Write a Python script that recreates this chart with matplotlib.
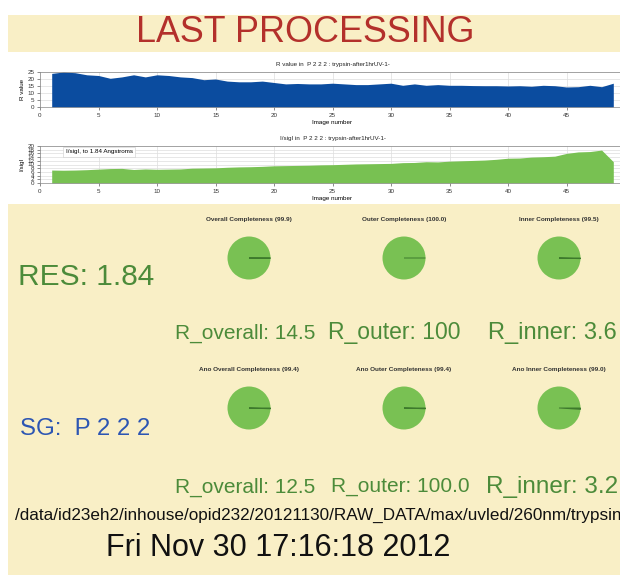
import matplotlib
matplotlib.use("Agg")
import matplotlib.pyplot as plt
from matplotlib.patches import Rectangle

# --- data ---
image_numbers = list(range(1, 50))
r_values = [24.0, 25.0, 24.5, 23.0, 22.5, 20.5, 21.5, 23.0, 21.5, 23.0,
            22.5, 21.5, 21.0, 19.5, 20.0, 18.5, 18.0, 18.0, 18.5, 17.5,
            16.5, 16.8, 16.5, 16.5, 17.0, 16.5, 16.0, 16.0, 16.5, 17.0,
            15.5, 16.5, 15.5, 16.0, 15.5, 15.5, 15.3, 15.2, 15.2, 15.0,
            15.2, 14.8, 15.5, 15.2, 14.3, 14.5, 15.5, 14.5, 17.0]
isigi_values = [7.0, 6.9, 7.0, 7.2, 7.5, 7.8, 7.9, 7.3, 7.6, 7.4,
                7.5, 7.6, 8.0, 8.1, 8.2, 8.5, 8.7, 8.8, 9.0, 9.3,
                9.4, 9.5, 9.6, 9.8, 9.9, 10.1, 10.3, 10.4, 10.5, 10.6,
                11.0, 11.1, 11.5, 11.4, 11.8, 12.0, 12.2, 12.4, 12.8, 13.4,
                13.5, 14.0, 14.2, 14.5, 16.0, 16.8, 17.0, 17.8, 11.5]

space_group = "P 2 2 2"
dataset = "trypsin-after1hrUV-1-"
resolution = "1.84"

completeness_titles = ["Overall Completeness", "Outer Completeness", "Inner Completeness",
                       "Ano Overall Completeness", "Ano Outer Completeness", "Ano Inner Completeness"]
completeness_values = [99.9, 100.0, 99.5, 99.4, 99.4, 99.0]

r_labels_row1 = ["R_overall: 14.5", "R_outer: 100", "R_inner: 3.6"]
r_labels_row2 = ["R_overall: 12.5", "R_outer: 100.0", "R_inner: 3.2"]

data_path = "/data/id23eh2/inhouse/opid232/20121130/RAW_DATA/max/uvled/260nm/trypsin"
timestamp = "Fri Nov 30 17:16:18 2012"

W, H = 620, 575
YELLOW = "#f9efc6"
GREEN_TXT = "#4c8b3a"
BLUE_TXT = "#2d56b3"
PIE_GREEN = "#79c153"
FILL_BLUE = "#0b4c9f"
FILL_GREEN = "#78c152"

plt.rcParams['font.family'] = ['Liberation Sans', 'DejaVu Sans']


def fx(px):
    return px / W


def fy(py):
    return 1 - py / H


fig = plt.figure(figsize=(6.2, 5.75), dpi=100)
fig.patch.set_facecolor("white")

# yellow panels (behind every axes)
fig.patches.append(Rectangle((fx(8), fy(52)), fx(612), 37 / H, transform=fig.transFigure,
                             facecolor=YELLOW, edgecolor="none", zorder=-5))
fig.patches.append(Rectangle((fx(8), 0), fx(612), fy(204), transform=fig.transFigure,
                             facecolor=YELLOW, edgecolor="none", zorder=-5))

fig.text(fx(305), fy(32), "LAST PROCESSING", color="#b3302b", fontsize=25.8,
         ha="center", va="center")


def trend_axes(top, bottom, values, color, title, ylabel, ylim, yticks):
    ax = fig.add_axes([fx(40), fy(bottom), fx(585), (bottom - top) / H])
    ax.fill_between(image_numbers, values, 0, color=color, linewidth=0, zorder=2)
    ax.set_xlim(0, 50)
    ax.set_ylim(*ylim)
    ax.set_xticks([0, 5, 10, 15, 20, 25, 30, 35, 40, 45])
    ax.set_yticks(yticks)
    ax.tick_params(labelsize=4.5, length=2, width=0.4, pad=2, colors="#333333")
    ax.grid(True, color="#dddddd", linewidth=0.5, zorder=0)
    for s in ax.spines.values():
        s.set_linewidth(0.5)
        s.set_color("#888888")
    ax.set_title(title, fontsize=4.5, pad=4, color="#222222")
    ax.set_ylabel(ylabel, fontsize=4.5, labelpad=2)
    ax.set_xlabel("Image number", fontsize=4.5, labelpad=2)
    return ax


trend_axes(72, 107, r_values, FILL_BLUE,
           "R value in  %s : %s" % (space_group, dataset), "R value",
           (0, 25), [0, 5, 10, 15, 20, 25])

ax2 = trend_axes(146, 183, isigi_values, FILL_GREEN,
                 "I/sigI in  %s : %s" % (space_group, dataset), "I/sigI",
                 (0, 20), [0, 2, 4, 6, 8, 10, 12, 14, 16, 18, 20])
ax2.text(2.2, 17.0, "I/sigI, to %s Angstroms" % resolution, fontsize=4.5, va="center",
         bbox=dict(facecolor="white", edgecolor="#cccccc", linewidth=0.4, pad=1.8), zorder=5)

# completeness pies (pie() pads its limits to +-1.25 radius)
pie_cx = [249, 404, 559]
pie_cy = [258, 408]
R = 21.5
half = R * 1.25
for i, (name, val) in enumerate(zip(completeness_titles, completeness_values)):
    cx = pie_cx[i % 3]
    cy = pie_cy[i // 3]
    ax = fig.add_axes([fx(cx - half), fy(cy + half), 2 * half / W, 2 * half / H])
    wedges, _ = ax.pie([val, 100 - val], colors=[PIE_GREEN, "#3d7a2c"], startangle=0,
                       counterclock=True, radius=1.0,
                       wedgeprops=dict(edgecolor="none"))
    wedges[1].set_edgecolor("#3d7a2c")
    wedges[1].set_linewidth(0.7)
    ax.set_aspect("equal")
    ax.set_title("%s (%.1f)" % (name, val), fontsize=4.6, fontweight="bold",
                 color="#333333", pad=7)

fig.text(fx(18), fy(277), "RES: %s" % resolution, color=GREEN_TXT, fontsize=21.5,
         ha="left", va="center")
fig.text(fx(20), fy(429), "SG:  %s" % space_group, color=BLUE_TXT, fontsize=17.3,
         ha="left", va="center")

row1_x = [175, 328, 488]
row1_size = [15, 16.5, 17]
for x, t, s in zip(row1_x, r_labels_row1, row1_size):
    fig.text(fx(x), fy(333), t, color=GREEN_TXT, fontsize=s, ha="left", va="center")
row2_x = [175, 331, 486]
row2_size = [15, 15, 17.5]
for x, t, s in zip(row2_x, r_labels_row2, row2_size):
    fig.text(fx(x), fy(487), t, color=GREEN_TXT, fontsize=s, ha="left", va="center")

fig.text(fx(15), fy(515), data_path, fontsize=12.3, ha="left", va="center", color="#111111")
fig.text(fx(278), fy(548), timestamp, fontsize=22, ha="center", va="center", color="#111111")

plt.savefig("out.png", dpi=100, facecolor="white")
